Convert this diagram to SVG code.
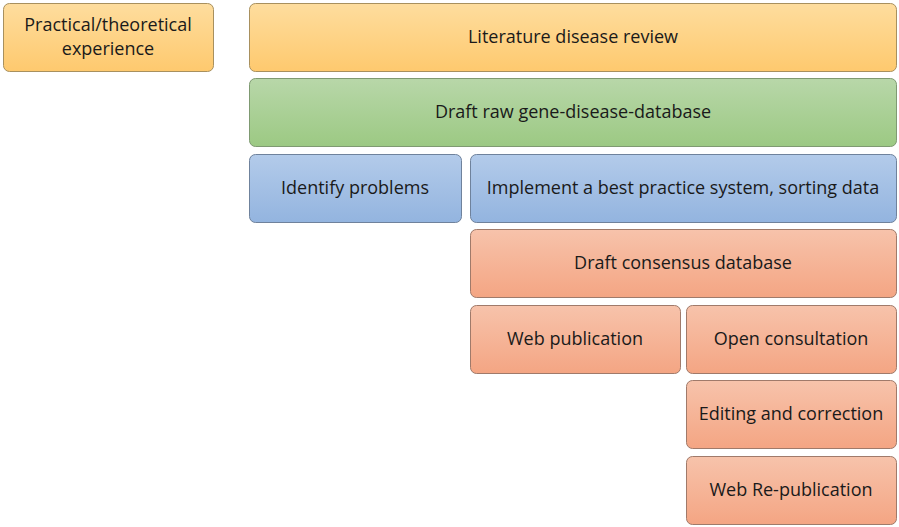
<svg xmlns="http://www.w3.org/2000/svg" width="899" height="527" viewBox="0 0 899 527">
<defs>
<linearGradient id="gO" x1="0" y1="0" x2="0" y2="1"><stop offset="0" stop-color="#fedd9e"/><stop offset="1" stop-color="#fec96e"/></linearGradient>
<linearGradient id="gG" x1="0" y1="0" x2="0" y2="1"><stop offset="0" stop-color="#b8d7a9"/><stop offset="1" stop-color="#9cc983"/></linearGradient>
<linearGradient id="gB" x1="0" y1="0" x2="0" y2="1"><stop offset="0" stop-color="#b3cbea"/><stop offset="1" stop-color="#93b4df"/></linearGradient>
<linearGradient id="gR" x1="0" y1="0" x2="0" y2="1"><stop offset="0" stop-color="#f7c3ab"/><stop offset="1" stop-color="#f4a583"/></linearGradient>
</defs>
<style>
.box{stroke-width:1;}
.o{fill:url(#gO);stroke:#a8905e}
.g{fill:url(#gG);stroke:#7f9a72}
.b{fill:url(#gB);stroke:#6f829c}
.r{fill:url(#gR);stroke:#a07a6a}
text{font-family:"Open Sans","Liberation Sans",sans-serif;font-size:18px;fill:#1a1a1a;text-anchor:middle;dominant-baseline:central}
</style>
<rect width="899" height="527" fill="#ffffff"/>
<g id="practical"><rect class="box o" x="3.5" y="3.5" width="210" height="68" rx="6"/><text x="108" y="24">Practical/theoretical</text><text x="108" y="48">experience</text></g>
<g id="literature"><rect class="box o" x="249.5" y="3.5" width="647" height="68" rx="6"/><text x="573" y="36">Literature disease review</text></g>
<g id="draftraw"><rect class="box g" x="249.5" y="78.5" width="647" height="68" rx="6"/><text x="573" y="111">Draft raw gene-disease-database</text></g>
<g id="identify"><rect class="box b" x="249.5" y="154.5" width="212" height="68" rx="6"/><text x="355" y="187">Identify problems</text></g>
<g id="implement"><rect class="box b" x="470.5" y="154.5" width="426" height="68" rx="6"/><text x="683" y="187">Implement a best practice system, sorting data</text></g>
<g id="consensus"><rect class="box r" x="470.5" y="229.5" width="426" height="68" rx="6"/><text x="683" y="262">Draft consensus database</text></g>
<g id="webpub"><rect class="box r" x="470.5" y="305.5" width="210" height="68" rx="6"/><text x="575" y="338">Web publication</text></g>
<g id="consult"><rect class="box r" x="686.5" y="305.5" width="210" height="68" rx="6"/><text x="791" y="338">Open consultation</text></g>
<g id="editing"><rect class="box r" x="686.5" y="380.5" width="210" height="68" rx="6"/><text x="791" y="413">Editing and correction</text></g>
<g id="republication"><rect class="box r" x="686.5" y="456.5" width="210" height="68" rx="6"/><text x="791" y="489">Web Re-publication</text></g>
<g id="connectors"></g>
</svg>
